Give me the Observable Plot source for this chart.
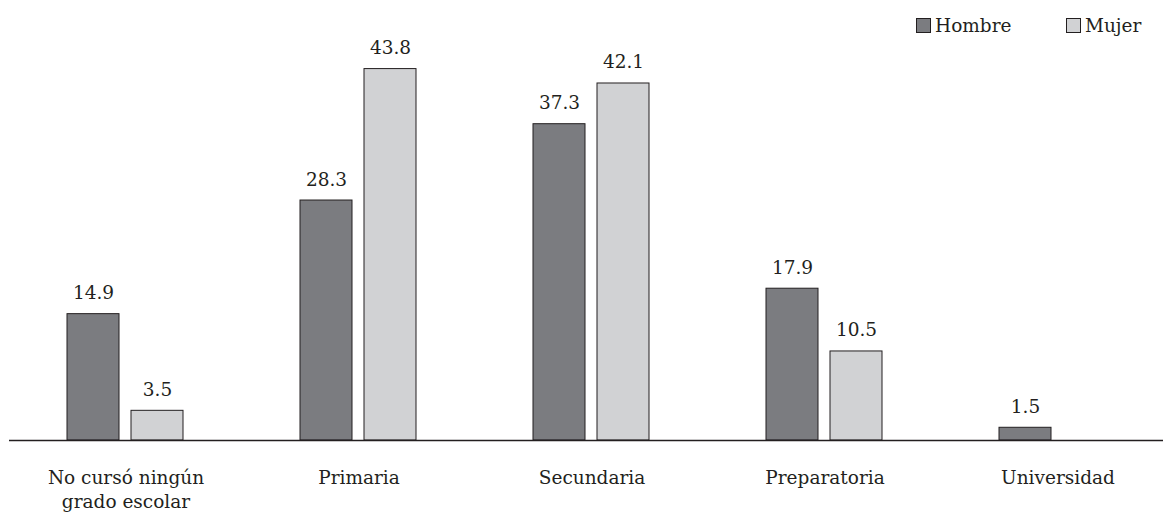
<!DOCTYPE html>
<html>
<head>
<meta charset="utf-8">
<script src="https://cdn.jsdelivr.net/npm/d3@7"></script>
<script src="https://cdn.jsdelivr.net/npm/@observablehq/plot@0.6"></script>
<style>
  html, body { margin: 0; padding: 0; background: #fff; overflow: hidden; }
  #wrap { position: relative; width: 1163px; height: 512px; overflow: hidden; }
  #wrap svg { max-width: none !important; height: 512px !important; }
  .leg { position: absolute; top: 15px; font-family: "DejaVu Serif", "Liberation Serif", serif; font-size: 18.5px; color: #231f20; display: flex; align-items: flex-end; line-height: 21px; }
  .sw { width: 13px; height: 13px; border: 1px solid #231f20; margin-right: 4px; margin-bottom: 3px; }
</style>
</head>
<body>
<div id="wrap"></div>
<script>
const categories = ["No cursó ningún\ngrado escolar", "Primaria", "Secundaria", "Preparatoria", "Universidad"];
const series = ["Hombre", "Mujer"];
const colors = ["#7b7c80", "#d1d2d4"];
const hombre = [14.9, 28.3, 37.3, 17.9, 1.5];
const mujer = [3.5, 43.8, 42.1, 10.5, null];

const data = categories.flatMap((c, i) => [
  {cat: c, sex: "Hombre", value: hombre[i]},
  {cat: c, sex: "Mujer", value: mujer[i]}
]).filter(d => d.value != null);

const FS = 18.5;
const chart = Plot.plot({
  width: 1174,
  height: 512,
  marginLeft: 9,
  marginRight: 0,
  marginTop: 16,
  marginBottom: 72,
  style: {fontFamily: "'DejaVu Serif', 'Liberation Serif', serif", fontSize: FS + "px", color: "#231f20", background: "#fff", overflow: "visible", maxWidth: "none"},
  fx: {domain: categories, padding: 0, axis: null},
  x: {domain: series, paddingInner: 0.185, paddingOuter: 0.885, axis: null},
  y: {domain: [0, 50], axis: null},
  color: {domain: series, range: colors},
  marks: [
    Plot.barY(data, {fx: "cat", x: "sex", y: "value", fill: "sex", stroke: "#231f20", strokeWidth: 1}),
    Plot.text(data, {fx: "cat", x: "sex", y: "value", text: d => d.value.toFixed(1), dy: -15, lineAnchor: "bottom", fontSize: FS, fill: "#231f20"}),
    Plot.text(categories, {fx: d => d, text: d => d, frameAnchor: "bottom", lineAnchor: "top", dy: 26, lineHeight: 1.32, fontSize: FS, fill: "#231f20"}),
    Plot.ruleY([0], {stroke: "#231f20", strokeWidth: 1.3})
  ]
});
const wrap = document.getElementById("wrap");
wrap.appendChild(chart);

const legPos = [916, 1066];
series.forEach((s, i) => {
  const d = document.createElement("div");
  d.className = "leg";
  d.style.left = legPos[i] + "px";
  const sw = document.createElement("span");
  sw.className = "sw";
  sw.style.background = colors[i];
  d.appendChild(sw);
  d.appendChild(document.createTextNode(s));
  wrap.appendChild(d);
});
</script>
</body>
</html>
